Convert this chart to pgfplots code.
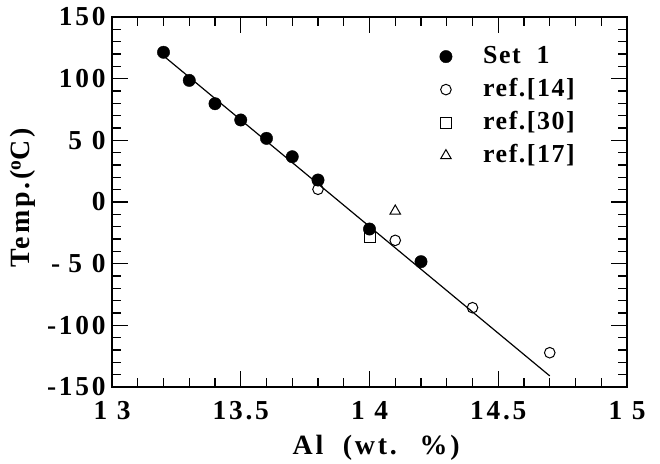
\documentclass[border=0pt]{standalone}
\usepackage{fontspec}
\setmainfont{Liberation Serif}[LetterSpace=10]
\newfontfamily\labelfont{Liberation Serif}[LetterSpace=10]
\newfontfamily\legendfont{Liberation Serif}[LetterSpace=6]
\usepackage{pgfplots}
\usepackage{pgfplotstable}
\pgfplotsset{compat=1.18}

% Set 1 measurements
\pgfplotstableread{
x y
13.2 121.4
13.3 98.6
13.4 79.7
13.5 66.5
13.6 51.6
13.7 36.7
13.8 17.8
14.0 -21.9
14.2 -48.4
}\setone

\begin{document}
\begin{tikzpicture}
\path[use as bounding box] (-112bp,-77bp) rectangle (548bp,387bp);
\begin{axis}[
  scale only axis, width=515bp, height=370bp,
  at={(0,0)}, anchor=south west,
  xmin=13, xmax=15, ymin=-150, ymax=150,
  xtick={13,13.5,14,14.5,15},
  xticklabels={1\hspace{0.35em}3, 13.5, 1\hspace{0.35em}4, 14.5, 1\hspace{0.35em}5},
  ytick={-150,-100,-50,0,50,100,150},
  yticklabels={-150,-100,-\hspace{0.3em}5\hspace{0.35em}0,0,5\hspace{0.35em}0,100,150},
  minor x tick num=4, minor y tick num=4,
  tick align=inside,
  major tick length=16bp, minor tick length=9bp,
  tick style={line width=1.2bp, black},
  axis line style={line width=1.6bp},
  ticklabel style={font=\fontsize{27.5}{27.5}\selectfont\bfseries},
  xticklabel style={yshift=-11bp},
  yticklabel style={xshift=-3bp},
  xlabel={Al\hspace{0.35em} (wt.\hspace{0.35em} \%)},
  ylabel={Temp.(\textsuperscript{o}C)},
  label style={font=\labelfont\fontsize{28}{28}\selectfont\bfseries},
  xlabel style={at={(axis description cs:0.513,-0.165)}, anchor=center},
  ylabel style={at={(axis description cs:-0.1728,0.511)}, anchor=center},
  legend style={draw=none, fill=none, inner sep=0pt,
    at={(axis description cs:0.636,0.93)}, anchor=north west,
    font=\legendfont\fontsize{26}{26}\selectfont\bfseries,
    column sep=29bp, row sep=6bp,
    nodes={inner sep=2bp, text height=18bp, text depth=5bp}},
  legend cell align=left,
]
% fitted line
\addplot[black, line width=1.2bp, forget plot] coordinates {(13.2,118.5) (14.7,-141)};

\addplot[only marks, mark=*, mark size=6.2bp, black, fill=black] table {\setone};
\addlegendentry{Set\hspace{0.3em} 1}

\addplot[only marks, mark=o, mark size=5.3bp, black, line width=1bp, mark options={fill=white}]
  coordinates {(13.8,10.3) (14.1,-31.1) (14.4,-85.7) (14.7,-122.2)};
\addlegendentry{ref.[14]}

\addplot[only marks, mark=square, mark size=5.5bp, black, line width=1bp, mark options={fill=white}]
  coordinates {(14.0,-28.7)};
\addlegendentry{ref.[30]}

\addplot[only marks, mark=triangle, mark size=6bp, black, line width=1bp, mark options={fill=white}]
  coordinates {(14.1,-7.3)};
\addlegendentry{ref.[17]}
\end{axis}
\end{tikzpicture}
\end{document}
